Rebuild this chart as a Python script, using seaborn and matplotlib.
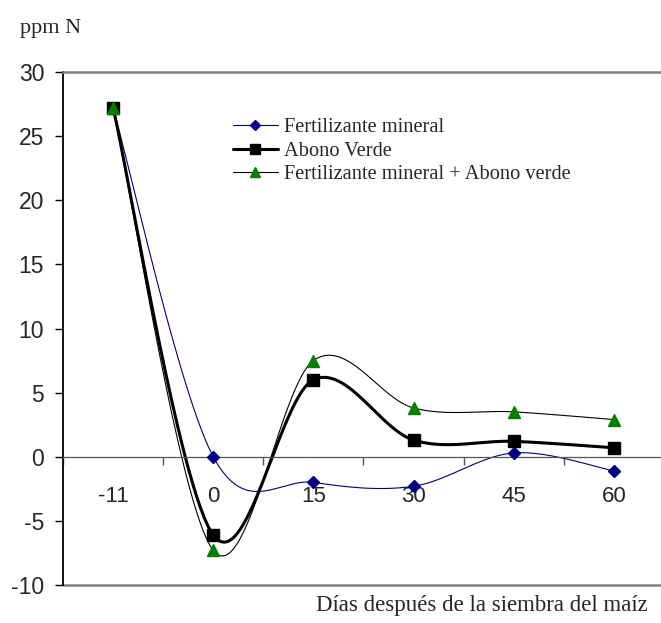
import numpy as np
import pandas as pd
import matplotlib
matplotlib.use("Agg")
import matplotlib.pyplot as plt
import seaborn as sns
from matplotlib.lines import Line2D

# ---- data ----
categories = ["-11", "0", "15", "30", "45", "60"]
fert_mineral = [27.2, 0.0, -2.0, -2.3, 0.3, -1.1]
abono_verde = [27.2, -6.1, 6.0, 1.3, 1.2, 0.7]
fert_abono = [27.2, -7.3, 7.5, 3.8, 3.5, 2.9]
series_names = ["Fertilizante mineral", "Abono Verde", "Fertilizante mineral + Abono verde"]
y_ticks = [-10, -5, 0, 5, 10, 15, 20, 25, 30]

sns.set_theme(style="white")
plt.rcParams["font.family"] = ["Liberation Sans", "DejaVu Sans"]

SERIF = ["Liberation Serif", "DejaVu Serif"]


def smooth(xs, ys, n=60):
    """Excel-style smoothed line (Catmull-Rom as cubic Bezier)."""
    P = np.column_stack([xs, ys]).astype(float)
    Pe = np.vstack([P[0], P, P[-1]])
    out = []
    for i in range(len(P) - 1):
        p0, p1, p2, p3 = Pe[i], Pe[i + 1], Pe[i + 2], Pe[i + 3]
        c1 = p1 + (p2 - p0) / 6.0
        c2 = p2 - (p3 - p1) / 6.0
        t = np.linspace(0, 1, n)[:, None]
        seg = ((1 - t) ** 3) * p1 + 3 * ((1 - t) ** 2) * t * c1 + 3 * (1 - t) * t ** 2 * c2 + t ** 3 * p2
        out.append(seg if i == 0 else seg[1:])
    s = np.vstack(out)
    return s[:, 0], s[:, 1]


fig = plt.figure(figsize=(6.61, 6.23), dpi=100)
W, H = 661, 623
ax = fig.add_axes([63 / W, (H - 585) / H, (664 - 63) / W, (585 - 72) / H])

xpos = np.arange(len(categories))
styles = [
    dict(color="#000080", lw=0.8, marker="D", mfc="#000080", mec="#000080", ms=6),
    dict(color="black", lw=2.2, marker="s", mfc="black", mec="black", ms=8),
    dict(color="black", lw=0.8, marker="^", mfc="#008000", mec="#008000", ms=8.5),
]
data_list = [fert_mineral, abono_verde, fert_abono]

for name, vals, st in zip(series_names, data_list, styles):
    sx, sy = smooth(xpos, vals)
    dfc = pd.DataFrame({"x": sx, "y": sy})
    sns.lineplot(data=dfc, x="x", y="y", ax=ax, color=st["color"], lw=st["lw"],
                 sort=False, estimator=None, legend=False, zorder=2)
    dfp = pd.DataFrame({"x": xpos, "y": vals})
    ax.plot(dfp["x"], dfp["y"], ls="none", marker=st["marker"], mfc=st["mfc"],
            mec=st["mec"], ms=st["ms"], zorder=3, clip_on=False)

ax.set_xlim(-0.5, len(categories) - 0.5)
ax.set_ylim(-10, 30)

# axes / spines
ax.spines["bottom"].set_position(("data", 0))
ax.spines["bottom"].set_color("#555555")
ax.spines["bottom"].set_linewidth(0.9)
ax.spines["left"].set_color("black")
ax.spines["left"].set_linewidth(1.3)
ax.spines["top"].set_color("#808080")
ax.spines["top"].set_linewidth(1.8)
ax.spines["right"].set_visible(False)
ax.axhline(-10, color="#808080", lw=1.8, clip_on=False, zorder=1)

ax.set_yticks(y_ticks)
ax.set_yticklabels([str(v) for v in y_ticks], fontsize=16.5)
ax.tick_params(axis="y", direction="out", length=6, width=1, color="black", pad=7.5, left=True)

ax.set_xticks(np.arange(len(categories) + 1) - 0.5)
ax.set_xticklabels([])
ax.set_xticks(xpos, minor=True)
ax.set_xticklabels(categories, minor=True, fontsize=16)
ax.tick_params(axis="x", which="major", direction="out", length=6, width=1, color="#555555", bottom=True)
ax.tick_params(axis="x", which="minor", length=0, pad=21)

ax.set_xlabel("")
ax.set_ylabel("")
ax.grid(False)

fig.text(20 / W, 1 - 33 / H, "ppm N", family=SERIF, fontsize=16, ha="left", va="baseline")
fig.text(648 / W, 1 - 605 / H, "Días después de la siembra del maíz", family=SERIF,
         fontsize=16.5, ha="right", va="center")

handles = [Line2D([0], [0], color=st["color"], lw=st["lw"], marker=st["marker"],
                  mfc=st["mfc"], mec=st["mec"], ms=st["ms"] * 0.9) for st in styles]
leg = ax.legend(handles, series_names, loc="upper left",
                bbox_to_anchor=((233 - 63) / (664 - 63), 1 - (118 - 72) / (585 - 72)),
                frameon=False, prop={"family": SERIF, "size": 14.7}, handlelength=2.2,
                handletextpad=0.3, labelspacing=0.2, borderaxespad=0, borderpad=0)

fig.savefig("out.png", dpi=100)
